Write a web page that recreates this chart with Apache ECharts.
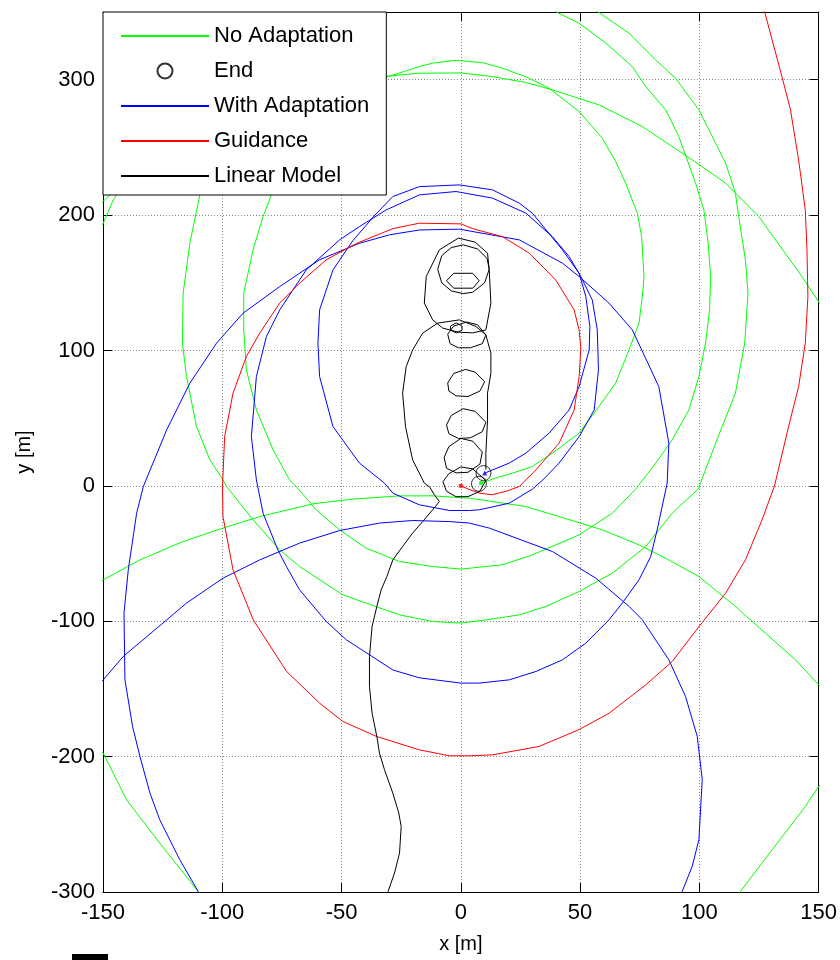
<!DOCTYPE html>
<html><head><meta charset="utf-8">
<script src="https://cdn.jsdelivr.net/npm/echarts@6/dist/echarts.min.js"></script>
<style>html,body{margin:0;padding:0;background:#fff}#c{width:840px;height:960px}</style>
</head><body><div id="c"></div>
<script>
// ---- axis setup ----
const xMin = -150, xMax = 150, xStep = 50;
const yMin = -300, yMax = 350, yStep = 100;
const legendNames = ['No Adaptation', 'End', 'With Adaptation', 'Guidance', 'Linear Model'];

// ---- No Adaptation (green) trajectory pieces ----
const greenInner = [[8.5,2],[15,6],[21.7,9.4],[30,14.3],[38.4,24.2],[49.6,38.9],[57.9,58.6],[64.9,75.8],[70.5,100.4],[74.7,120.2],[76.1,139.8],[76.8,154.6],[75.8,184.1],[74,201.4],[69.1,223.6],[64.9,239.5],[59.3,256.8],[49.6,276.4],[41.2,288],[37,293.7],[28.7,301.1],[17.5,308.5],[9.1,312.6],[-0.6,314.1],[-3.4,314.1],[-11.8,312.2],[-17.4,309.7],[-32.7,301],[-50,292],[-63,278],[-73,258],[-78,235],[-79.4,215],[-82.9,198.9],[-87.1,174.3],[-91,142.3],[-91,115.2],[-89.9,85.7],[-85.7,56.1],[-78.7,26.6],[-71.8,4.4],[-69,-0.5],[-60.6,-17.7],[-50.8,-32.5],[-39.7,-46],[-25.7,-55.9],[-11.8,-59.6],[0,-61.5],[17.5,-58.3],[30,-51],[49.6,-36.2],[63.5,-20.2],[73.3,-2.4],[81.7,16.8],[88.6,34],[95.6,56.1],[99.8,80.7],[102.6,105.4],[104.3,130],[104.7,154.6],[103.7,179.2],[101.9,203.8],[98.4,223.6],[94.9,240.8],[91.4,258],[85.9,277.7],[77.5,294.9],[71.9,309.7],[60.8,327],[49.6,341.7],[41.2,349],[35,355]];
const greenOuter = [[-60,345],[-80,310],[-98,270],[-106,240],[-109.4,215],[-113.6,179.2],[-116.4,142.3],[-116.7,105.4],[-115,80.7],[-110.8,43.8],[-105.2,19.2],[-99.7,4.4],[-98.2,-0.5],[-87.1,-25.1],[-75.9,-47.3],[-67.6,-59.6],[-49.5,-80.5],[-39.7,-86.6],[-25.7,-95.3],[-11.8,-100.2],[0,-101.4],[10.5,-99],[24.5,-95.3],[35.6,-89.1],[49.6,-78],[63.5,-64.5],[77.5,-44.8],[88.6,-20.2],[99.5,-2.4],[106.8,31.5],[115.1,68.5],[119,105.4],[120.4,142.3],[119.3,166.9],[116.5,198.9],[115.1,216.2],[111,238.3],[106.8,253.1],[99.8,277.7],[90,301.1],[81.7,314.6],[70.5,334.3],[59.3,347.9],[55,353]];
const greenDiagonal = [[153,130],[150.4,134.9],[143,154.6],[124.9,198.9],[111,223.6],[97,240.8],[76.1,265.4],[57.9,281.4],[38.4,292.5],[27.3,297.9],[13.3,302.3],[0,305],[-17.4,304.8],[-32.7,302.3],[-60,297],[-90,285],[-115,265],[-135,240],[-145.7,211.2],[-149.9,194],[-153,186]];
const greenLeftEdge = [[-153,205],[-147,215],[-138,230],[-125,250]];
const greenArc = [[-153,-72],[-149.9,-69.4],[-134.5,-54.7],[-116.4,-41.1],[-99.7,-31.2],[-84.3,-22.7],[-62,-13.3],[-45.3,-9.8],[-25.7,-7.4],[-11.8,-7.4],[3.6,-9.1],[27.3,-15.3],[41.2,-22.7],[59.3,-32.5],[74.7,-43.6],[87.2,-54.7],[99.8,-67],[115.1,-89.1],[127.7,-108.8],[140.3,-128.5],[150,-147],[153,-152]];
const greenBottomLeft = [[-153,-192],[-149.9,-197.4],[-140.1,-232],[-126.2,-263.9],[-110.1,-299.6],[-108,-304]];
const greenBottomRight = [[115,-304],[117.2,-299.6],[130.5,-268.8],[144.4,-236.9],[150,-222],[153,-217]];

// ---- End markers ----
const endPoints = [[9.5,9.4],[7.6,1.5]];

// ---- With Adaptation (blue) ----
const blueMain = [[10,9.4],[20.3,16.8],[27.3,24.2],[37,38.9],[45.4,56],[49.6,73.3],[53.8,100.4],[54.1,117.7],[52.4,139.8],[49.6,157],[42.6,174.3],[30,201.4],[24.5,208.8],[13.3,218.6],[-0.6,222.3],[-17.4,221],[-28.5,213.7],[-36,200],[-45.3,181],[-53.6,159.5],[-59.2,130],[-59.9,105.4],[-59.2,80.7],[-53.6,43.8],[-42.5,16.8],[-32,2],[-28.5,-5.4],[-17.4,-14],[-4.8,-18.2],[3.6,-18.2],[7.7,-17.7],[20.3,-12.8],[30,-2.4],[34.4,4.4],[41.2,16.8],[49.6,36.4],[55.9,56],[57.7,85.7],[57.2,115.2],[55.1,137.4],[50.3,154.6],[45.4,169.4],[38.4,184],[27.3,201.4],[13.3,212.5],[-2,217.4],[-17.4,214.9],[-31.3,203.8],[-42.5,191.5],[-50.8,181.7],[-64.8,159.5],[-75.9,130],[-81.5,110.3],[-85.7,80.7],[-87.8,36.4],[-85.7,4.4],[-82.9,-20.2],[-76.7,-47.3],[-73.1,-59.6],[-67.6,-76.8],[-56.4,-100.2],[-48,-113.7],[-38.3,-124.8],[-28.5,-136],[-17.4,-141.8],[0,-145.7],[7.7,-145.7],[20.3,-143.3],[31.5,-137.1],[42.6,-128.5],[52.4,-116.2],[62.1,-99],[67.7,-86.6],[74.7,-69.4],[79.6,-52.2],[82.3,-32.5],[86.5,2],[87.2,31.5],[83,73.3],[71.9,115.2],[62.1,135],[49.6,154.6],[42.6,164.5],[24.5,181.7],[-0.6,189.6],[-17.4,189],[-29.9,185.4],[-42.5,179.2],[-59.2,167],[-75.9,147.2],[-91.3,127.5],[-102.4,105.4],[-113.6,75.8],[-123.3,41.4],[-133.1,-0.5],[-135.9,-20.2],[-139.4,-62],[-141.2,-94],[-140.8,-143.3],[-137.6,-177.8],[-134.5,-200],[-130.3,-227],[-126.2,-246.7],[-117.8,-276.2],[-110.1,-299.6],[-108.5,-304]];
const blueOuter = [[-153,-147],[-149.9,-143.3],[-141.5,-126],[-123.3,-99],[-115,-86.6],[-99.7,-68.2],[-84.3,-54.7],[-67.6,-42.3],[-50.8,-33],[-34.1,-27.5],[-20.2,-25.6],[-4.8,-26.4],[3.6,-27.5],[11.9,-31.2],[38.4,-48.5],[56.6,-68.2],[70.5,-89],[76.1,-99],[87.2,-128.5],[94.2,-155.6],[99.1,-185],[101.2,-217],[99.8,-261.4],[97,-281],[92.8,-299.6],[91.5,-304]];

// ---- Guidance (red) ----
const redGuidance = [[0,0],[4,-3],[8,-5.4],[13,-6.6],[19,-4],[24.5,-0.5],[31.5,11.8],[41.2,31.5],[47.5,56],[49.6,80.7],[50.3,101.7],[49.6,115],[47.5,130],[44,140],[39.8,152],[28.7,171.9],[17.5,184],[4.9,190],[0,193.5],[-17.4,194],[-28.5,190],[-43.8,179],[-56.4,167],[-67.6,149.7],[-75.9,135],[-84.3,112.8],[-89.9,95.5],[-95.5,68.5],[-99,36.4],[-99.9,0],[-99.7,-22.7],[-95.5,-62],[-87,-99],[-73.1,-137],[-59.2,-160.5],[-49.5,-174],[-35.5,-185],[-17.4,-195],[-4.8,-199.4],[3.6,-199.4],[13.3,-198.7],[32.8,-192.5],[49.6,-180],[62.1,-168],[77.5,-147],[88.6,-129.8],[99.8,-104],[111,-79.3],[119.3,-54.7],[126.3,-25],[131.5,0],[137.4,43.8],[141.6,73.3],[144.4,105.4],[145.5,139.8],[145.1,174.3],[144.4,203.8],[141.6,240.8],[138.2,277.7],[134.6,302.3],[130.5,329.4],[127.7,347.9],[127,353]];

// ---- start markers of the three trajectories ----
const startGreen = [[8.5,2]];
const startBlue = [[10,9.4]];
const startRed = [[0,0]];

// ---- Linear Model (black) ----
const blackTail = [[-30.8,-304],[-30.5,-299.6],[-27.8,-286],[-25.7,-271.3],[-25,-251.6],[-26,-241.7],[-28.5,-227],[-32,-209.7],[-34.1,-197.4],[-35.2,-185.2],[-37.2,-167.9],[-38.3,-148.2],[-38.3,-126],[-37.2,-103.9],[-35.2,-89.1],[-33.4,-76.8],[-31,-67],[-28.5,-54.7],[-24.4,-44.8],[-20.2,-34.9],[-16,-26.4],[-11.8,-17.7],[-9,-11.6],[-11.1,-6.6],[-13,-1],[-15.3,2],[-20.2,19.2],[-23.2,43.8],[-24.4,68.5],[-22.9,88.1],[-20.2,100.4],[-16,112.8],[-9.7,120.2],[-0.6,122.6],[6.4,117.7],[10.5,111.5],[12.6,98],[12.6,83.2],[11.2,68.5],[11.2,48.7],[10.5,24.2],[10.5,12]];
const blackUpper = [[-1,183],[6,180],[11.2,171.9],[11.9,159.5],[12.6,135],[10.5,115.2],[5,113],[-1,113.5],[-7.6,116.5],[-11.8,122.6],[-15.3,135],[-14.5,154.6],[-9,174.3],[-1,183]];
const blackLoopTop = [[1,178],[7,175],[11,168],[11.9,160],[10,150],[5,143],[1,142],[-4,144],[-8,150],[-9.7,160],[-8,170],[-4,176],[1,178]];
const blackHex = [[-3,157],[5,157],[7.7,151.5],[5,146],[-3,146],[-6,151.5],[-3,157]];
const blackLoop5 = [[2.5,121],[7,119],[10.5,111.5],[9,105],[4,102],[-1,102],[-4.5,105],[-5.5,112],[-3,118],[2.5,121]];
const blackTiny = [[-1.9,120.4],[0.5,118],[0.5,115],[-1.9,113],[-4.3,115],[-4.3,118],[-1.9,120.4]];
const blackLoop4 = [[2,86],[6,84],[10,77],[8,70],[3,66],[-2,66.5],[-5,70],[-5.5,76],[-3,83],[2,86]];
const blackLoop3 = [[1,57],[6,55],[10.5,47],[9,40],[4,35.5],[-1,35],[-5,38.5],[-6,45],[-4,52],[1,57]];
const blackLoop2 = [[0,35],[5,33],[9,25],[8,16],[3,10],[-2,9.6],[-6,13],[-7,21],[-5,29],[0,35]];
const blackLoop1 = [[0,14],[5,12.5],[10.5,4],[8,-4],[3,-8],[-2,-8],[-6,-4],[-7.5,3],[-5,9],[0,14]];

const FONT = '"Liberation Sans", Arial, sans-serif';

function lineSeries(name, data, color, z) {
  return { type: 'line', name: name, data: data, symbol: 'none', clip: true, z: z,
    lineStyle: { color: color, width: 1 }, itemStyle: { color: color },
    silent: true, animation: false };
}
function markerSeries(data, color, symbol, size, z) {
  return { type: 'scatter', data: data, symbol: symbol, symbolSize: size, z: z, silent: true,
    itemStyle: { color: color }, animation: false };
}

const series = [];
[greenInner, greenOuter, greenDiagonal, greenLeftEdge, greenArc, greenBottomLeft, greenBottomRight]
  .forEach(d => series.push(lineSeries('No Adaptation', d, '#00ff00', 2)));
series.push({ type: 'scatter', name: 'End', data: endPoints, symbol: 'circle', symbolSize: 15, z: 3,
  itemStyle: { color: 'rgba(0,0,0,0)', borderColor: '#000', borderWidth: 1 }, animation: false, silent: true });
[blueMain, blueOuter].forEach(d => series.push(lineSeries('With Adaptation', d, '#0000ff', 3)));
series.push(lineSeries('Guidance', redGuidance, '#ff0000', 4));
[blackTail, blackUpper, blackLoopTop, blackHex, blackLoop5, blackTiny, blackLoop4, blackLoop3, blackLoop2, blackLoop1]
  .forEach(d => series.push(lineSeries('Linear Model', d, '#000000', 5)));
series.push(markerSeries(startGreen, '#00ff00', 'rect', 4, 6));
series.push(markerSeries(startBlue, '#0000ff', 'triangle', 5, 6));
series.push(markerSeries(startRed, '#ff0000', 'rect', 4, 6));

const hideDot = { opacity: 0 };
const tickStyle = { show: true, inside: true, length: 9, lineStyle: { color: '#000', width: 1 } };
const axisLine = { show: true, onZero: false, lineStyle: { color: '#000', width: 1 } };
const gridLine = { show: true, lineStyle: { color: '#888', width: 1, type: [1, 2] } };

const chart = echarts.init(document.getElementById('c'), null, { renderer: 'canvas' });
chart.setOption({
  backgroundColor: '#fff',
  animation: false,
  grid: { left: 103, right: 19, top: 12, bottom: 68, containLabel: false },
  legend: {
    data: [
      { name: legendNames[0], itemStyle: hideDot },
      { name: legendNames[1] },
      { name: legendNames[2], itemStyle: hideDot },
      { name: legendNames[3], itemStyle: hideDot },
      { name: legendNames[4], itemStyle: hideDot }
    ],
    orient: 'vertical', left: 103, top: 12,
    padding: [13, 17, 8, 17], itemGap: 13, itemWidth: 88, itemHeight: 15,
    backgroundColor: '#fff', borderColor: '#000', borderWidth: 1, borderRadius: 0,
    textStyle: { fontFamily: FONT, fontSize: 22, color: '#000', lineHeight: 22 },
    selectedMode: false, z: 20
  },
  xAxis: [
    { type: 'value', min: xMin, max: xMax, interval: xStep, position: 'bottom',
      name: 'x [m]', nameLocation: 'middle', nameGap: 42,
      nameTextStyle: { fontFamily: FONT, fontSize: 20, color: '#000' },
      axisLine: axisLine, axisTick: tickStyle, splitLine: gridLine,
      axisLabel: { fontFamily: FONT, fontSize: 22, color: '#000', margin: 10 } },
    { type: 'value', min: xMin, max: xMax, interval: xStep, position: 'top',
      axisLine: axisLine, axisTick: tickStyle, splitLine: { show: false }, axisLabel: { show: false } }
  ],
  yAxis: [
    { type: 'value', min: yMin, max: yMax, interval: yStep, position: 'left',
      name: 'y [m]', nameLocation: 'middle', nameGap: 69, nameRotate: 90,
      nameTextStyle: { fontFamily: FONT, fontSize: 20, color: '#000' },
      axisLine: axisLine, axisTick: tickStyle, splitLine: gridLine,
      axisLabel: { fontFamily: FONT, fontSize: 22, color: '#000', margin: 8, showMaxLabel: false } },
    { type: 'value', min: yMin, max: yMax, interval: yStep, position: 'right',
      axisLine: axisLine, axisTick: tickStyle, splitLine: { show: false }, axisLabel: { show: false } }
  ],
  graphic: [
    { type: 'rect', left: 72, top: 954, shape: { width: 36, height: 6 }, style: { fill: '#000' }, silent: true }
  ],
  series: series
});
</script></body></html>
